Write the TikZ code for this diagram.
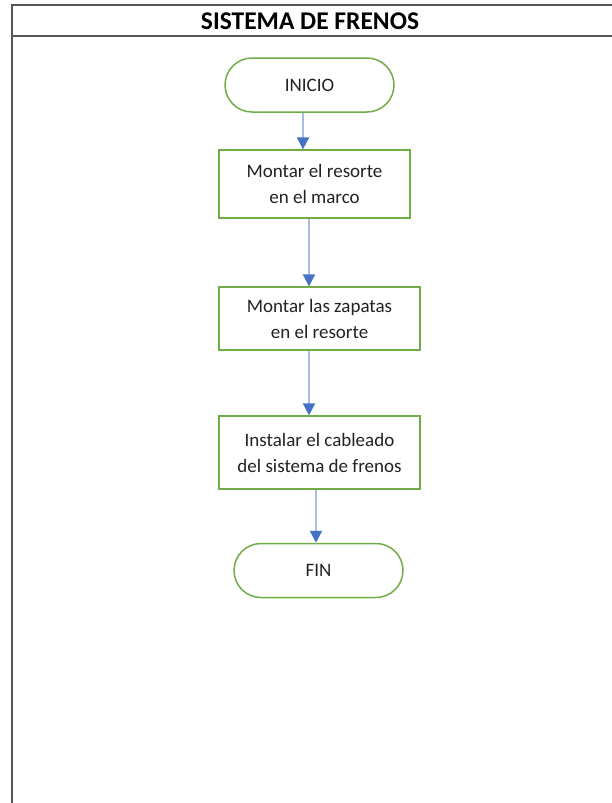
\documentclass[tikz,border=0pt]{standalone}
\usepackage{fontspec}
\setmainfont{Carlito}
\usetikzlibrary{arrows.meta,shapes.misc}
\definecolor{framegray}{HTML}{555555}
\definecolor{stepgreen}{HTML}{70AD47}
\definecolor{linkblue}{HTML}{A9BDE6}
\definecolor{tipblue}{HTML}{4472C4}
\definecolor{inktext}{HTML}{222222}
\tikzset{
  terminal/.style={draw=stepgreen, line width=1.5pt, rounded rectangle, fill=white,
    minimum width=169pt, minimum height=54pt, inner sep=0pt,
    font=\fontsize{19}{22}\selectfont, text=inktext},
  stepbox/.style={draw=stepgreen, line width=1.3pt, rectangle, fill=white,
    inner sep=0pt, align=center, font=\fontsize{19}{26}\selectfont, text=inktext},
  link/.style={draw=linkblue, line width=2pt, -{Triangle[length=12pt,width=12pt,color=tipblue]}},
}
\begin{document}
\begin{tikzpicture}[x=1pt,y=-1pt]
  \useasboundingbox (0,0) rectangle (612,803);
  % page frame and title bar
  \draw[framegray, line width=1.6pt] (612,5) -- (12,5) -- (12,803);
  \draw[framegray, line width=1.6pt] (12,36) -- (612,36);
  \node[font=\bfseries\fontsize{25.5}{28}\selectfont, text=black] (title) at (310,21) {SISTEMA DE FRENOS};

  % flow steps
  \node[terminal] (inicio) at (309.5,85) {INICIO};
  \node[stepbox, minimum width=191pt, minimum height=68pt] (s1) at (314.5,184)
    {Montar el resorte\\en el marco};
  \node[stepbox, minimum width=201pt, minimum height=63pt] (s2) at (319.5,318.5)
    {Montar las zapatas\\en el resorte};
  \node[stepbox, minimum width=201pt, minimum height=73pt] (s3) at (319.5,452.5)
    {Instalar el cableado\\del sistema de frenos};
  \node[terminal] (fin) at (318.5,570.5) {FIN};

  % connectors
  \draw[link] (inicio.south -| 303,0) -- (s1.north -| 303,0);
  \draw[link] (s1.south -| 309,0) -- (s2.north -| 309,0);
  \draw[link] (s2.south -| 309,0) -- (s3.north -| 309,0);
  \draw[link] (s3.south -| 316,0) -- (fin.north -| 316,0);
\end{tikzpicture}
\end{document}
